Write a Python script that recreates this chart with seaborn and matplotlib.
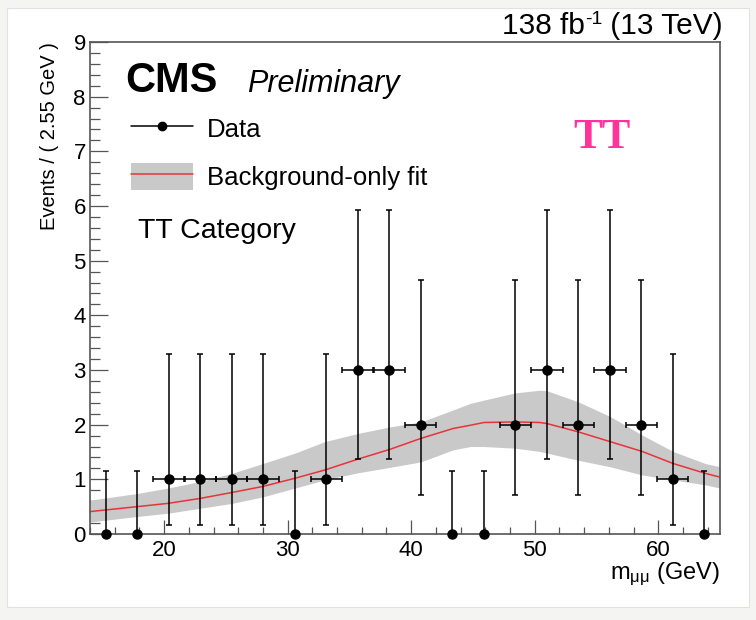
import numpy as np
import pandas as pd
import seaborn as sns
import matplotlib
matplotlib.use("Agg")
import matplotlib.pyplot as plt
from matplotlib.lines import Line2D
from matplotlib.patches import Patch, Rectangle
from matplotlib.ticker import MultipleLocator

# ---- data: dimuon mass spectrum, TT category (2.55 GeV bins) ----
bin_centers = [15.275, 17.825, 20.375, 22.925, 25.475, 28.025, 30.575, 33.125,
               35.675, 38.225, 40.775, 43.325, 45.875, 48.425, 50.975, 53.525,
               56.075, 58.625, 61.175, 63.725]
counts = [0, 0, 1, 1, 1, 1, 0, 1, 3, 3, 2, 0, 0, 2, 3, 2, 3, 2, 1, 0]
half_bin = 1.275

# Poisson intervals drawn for each observed count (lower, upper)
poisson_interval = {0: (0.0, 1.15), 1: (0.17, 3.30), 2: (0.71, 4.64), 3: (1.37, 5.92)}

# ---- background-only fit and its uncertainty band ----
fit_mass = [14.0, 17.8, 20.3, 22.9, 25.5, 28.0, 30.6, 33.0, 35.7, 38.3, 40.8,
            43.4, 44.8, 45.9, 48.4, 50.4, 51.0, 53.5, 56.1, 58.7, 61.2, 63.8, 65.0]
fit_value = [0.41, 0.50, 0.56, 0.65, 0.76, 0.87, 1.02, 1.17, 1.37, 1.55, 1.75,
             1.93, 1.99, 2.04, 2.05, 2.04, 2.02, 1.87, 1.69, 1.51, 1.29, 1.11, 1.04]
fit_high = [0.62, 0.74, 0.84, 0.96, 1.11, 1.29, 1.48, 1.69, 1.84, 1.96, 2.05,
            2.27, 2.39, 2.45, 2.58, 2.63, 2.62, 2.42, 2.15, 1.81, 1.51, 1.29, 1.23]
fit_low = [0.22, 0.32, 0.38, 0.47, 0.56, 0.68, 0.84, 0.99, 1.12, 1.22, 1.32,
           1.54, 1.60, 1.60, 1.57, 1.51, 1.48, 1.35, 1.23, 1.08, 0.99, 0.90, 0.84]

data = pd.DataFrame({"mass": bin_centers, "events": counts})
data["lo"] = [poisson_interval[c][0] for c in counts]
data["hi"] = [poisson_interval[c][1] for c in counts]
fit = pd.DataFrame({"mass": fit_mass, "fit": fit_value, "low": fit_low, "high": fit_high})

sns.set_theme(style="white")
plt.rcParams["font.family"] = ["Liberation Sans", "DejaVu Sans"]
plt.rcParams["mathtext.default"] = "regular"
plt.rcParams["axes.unicode_minus"] = False
plt.rcParams["text.color"] = "black"
plt.rcParams["axes.labelcolor"] = "black"

W, H = 756, 620
fig = plt.figure(figsize=(W / 100, H / 100), dpi=100, facecolor="#f4f4f2")
fig.patches.append(Rectangle((7 / W, 1 - 607 / H), (749 - 7) / W, (607 - 8) / H,
                             transform=fig.transFigure, facecolor="white",
                             edgecolor="#e2e2e0", linewidth=0.8, zorder=-5))
ax = fig.add_axes([90 / W, 1 - 534 / H, 630 / W, 492 / H])
ax.set_zorder(2)
ax.set_facecolor("white")

# uncertainty band and central fit
ax.fill_between(fit["mass"], fit["low"], fit["high"], color="#c9c9c9", lw=0, zorder=1)
sns.lineplot(data=fit, x="mass", y="fit", ax=ax, color="#e8333a", lw=1.1,
             zorder=2, legend=False)

# observed events with Poisson error bars
nz = data[data["events"] > 0]
zr = data[data["events"] == 0]
err_kw = dict(fmt="o", color="black", ms=6.5, lw=1.1, elinewidth=1.1,
              capsize=2.3, capthick=1.1, zorder=4, clip_on=False)
ax.errorbar(nz["mass"], nz["events"], xerr=half_bin,
            yerr=[nz["events"] - nz["lo"], nz["hi"] - nz["events"]], **err_kw)
ax.errorbar(zr["mass"], zr["events"],
            yerr=[zr["events"] - zr["lo"], zr["hi"] - zr["events"]], **err_kw)

ax.set_xlim(14, 65)
ax.set_ylim(0, 9)
ax.xaxis.set_major_locator(MultipleLocator(10))
ax.xaxis.set_minor_locator(MultipleLocator(2))
ax.yaxis.set_major_locator(MultipleLocator(1))
ax.yaxis.set_minor_locator(MultipleLocator(0.2))

frame = "#555555"
for s in ax.spines.values():
    s.set_visible(True)
    s.set_color(frame)
    s.set_linewidth(1.2)
ax.tick_params(axis="both", which="both", direction="in", color=frame, width=0.9,
               top=False, right=False, bottom=True, left=True, labelcolor="black")
ax.tick_params(axis="y", which="major", length=13, labelsize=16, pad=3)
ax.tick_params(axis="y", which="minor", length=7)
ax.tick_params(axis="x", which="major", length=10, labelsize=16, pad=4)
ax.tick_params(axis="x", which="minor", length=5)

ax.set_ylabel("Events / ( 2.55 GeV )", fontsize=14.5, loc="top", labelpad=10)
ax.set_xlabel(r"m$_{\mu\mu}$ (GeV)", fontsize=17, loc="right", labelpad=0)

# luminosity label: main text plus a small raised "-1"
fig.canvas.draw()
renderer = fig.canvas.get_renderer()
lumi_tail = fig.text(723 / W, 1 - 34 / H, " (13 TeV)", ha="right", va="baseline",
                     fontsize=21.5, zorder=3)
x_tail = lumi_tail.get_window_extent(renderer).x0
lumi_exp = fig.text(x_tail / W, 1 - 24 / H, "-1", ha="right", va="baseline",
                    fontsize=14, zorder=3)
x_exp = lumi_exp.get_window_extent(renderer).x0
fig.text(x_exp / W, 1 - 34 / H, "138 fb", ha="right", va="baseline",
         fontsize=21.5, zorder=3)

ax.text(0.0556, 0.898, "CMS", transform=ax.transAxes, fontsize=30,
        fontweight="bold", ha="left", va="baseline")
ax.text(0.249, 0.898, "Preliminary", transform=ax.transAxes, fontsize=22,
        fontstyle="italic", ha="left", va="baseline")
ax.text(0.076, 0.602, "TT Category", transform=ax.transAxes, fontsize=20.5,
        ha="left", va="baseline")
ax.text(0.767, 0.785, "TT", transform=ax.transAxes, fontsize=31,
        fontweight="bold", family=["Liberation Serif", "DejaVu Serif"],
        color="#ff3399", ha="left", va="baseline")

handles = [Line2D([], [], color="black", marker="o", ms=6, lw=1.1),
           (Patch(facecolor="#c9c9c9", edgecolor="none"),
            Line2D([], [], color="#e8333a", lw=1.1))]
ax.legend(handles, ["Data", "Background-only fit"], loc="upper left",
          bbox_to_anchor=(0.065, 0.852), frameon=False, fontsize=18.5,
          borderpad=0, borderaxespad=0, handlelength=2.42, handleheight=1.25,
          labelspacing=0.8, handletextpad=0.55)

fig.savefig("out.png", dpi=100, facecolor=fig.get_facecolor())
